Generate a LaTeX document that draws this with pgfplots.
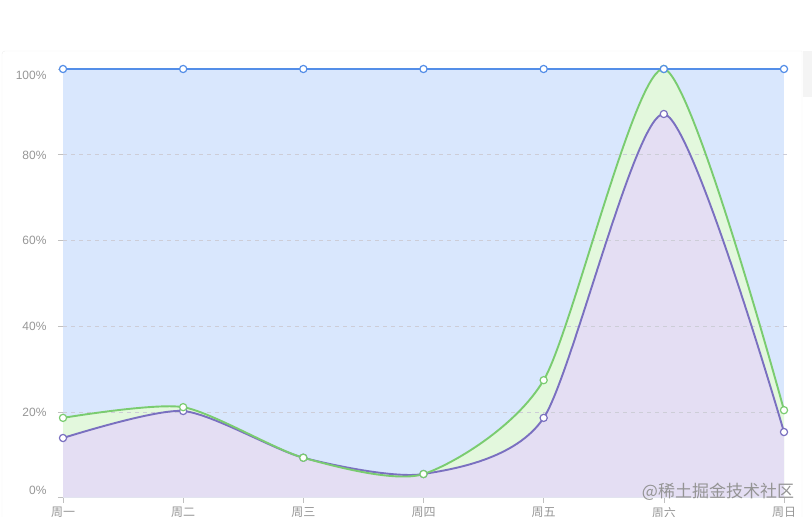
\documentclass[border=0pt]{standalone}
\usepackage{fontspec}
\setmainfont{Liberation Sans}
\newfontfamily\cjk{Noto Sans CJK SC}
\usepackage{pgfplots}
\pgfplotsset{compat=1.18}

\definecolor{bluefill}{RGB}{217,231,253}
\definecolor{greenfill}{RGB}{227,248,221}
\definecolor{purplefill}{RGB}{228,222,243}
\definecolor{blueline}{RGB}{84,142,232}
\definecolor{greenline}{RGB}{122,204,112}
\definecolor{purpleline}{RGB}{122,112,192}
\definecolor{labelgray}{RGB}{150,150,150}
\definecolor{gridgray}{RGB}{205,205,215}
\definecolor{cardline}{RGB}{236,236,236}

% y labels: the end ones are pulled inwards, as the original does
\newcommand{\ylab}[1]{%
  \ifnum\ticknum=5\relax\raisebox{-10.3pt}[0pt][0pt]{#1}%
  \else\ifnum\ticknum=0\relax\raisebox{2.7pt}[0pt][0pt]{#1}%
  \else\raisebox{-4.3pt}[0pt][0pt]{#1}\fi\fi}

\begin{document}
\begin{tikzpicture}
% card outline and scrollbar strip
\draw[cardline] (2pt,-5pt) -- (2pt,463pt) arc[start angle=180,end angle=90,radius=3pt] -- (802pt,466pt) -- (802pt,-5pt);
\fill[cardline!60] (802.5pt,420pt) rectangle (812pt,466pt);

\begin{axis}[
  at={(63pt,19.4pt)}, anchor=south west,
  scale only axis,
  width=721pt, height=428.6pt,
  xmin=0, xmax=6, ymin=0, ymax=100,
  clip=false,
  axis x line*=bottom,
  axis y line*=left,
  y axis line style={draw=none},
  x axis line style={draw=labelgray!60, -},
  xtick={0,...,6},
  xticklabels={周一,周二,周三,周四,周五,周六,周日},
  xticklabel style={font=\cjk\fontsize{12}{14}\selectfont, text=labelgray, yshift=-1pt},
  ytick={0,20,...,100},
  /pgf/number format/assume math mode=true,
  yticklabel={\ylab{\pgfmathprintnumber{\tick}\%}},
  yticklabel style={font=\fontsize{12}{14}\selectfont, text=labelgray, xshift=-8pt},
  tick style={draw=labelgray!60, line width=0.6pt},
  major tick length=5pt,
  tick align=outside,
]
% stacked areas
\addplot[draw=none, fill=bluefill] coordinates {(0,100) (6,100)} \closedcycle;
\addplot[draw=none, fill=greenfill, smooth, tension=0.42] coordinates {
  (0,18.6) (1,21.1) (2,9.3) (3,5.5) (4,27.4) (5,100) (6,20.4)
} \closedcycle;
\addplot[draw=none, fill=purplefill, smooth, tension=0.42] coordinates {
  (0,13.9) (1,20.2) (2,9.3) (3,5.5) (4,18.6) (5,89.5) (6,15.3)
} \closedcycle;

% dashed grid
\foreach \g in {20,40,60,80} {
  \edef\tmp{\noexpand\draw[gridgray, dash pattern=on 4pt off 4pt, line width=0.6pt]
    (axis cs:0,\g) -- ([xshift=4pt]axis cs:6,\g);}
  \tmp
}

% lines
\addplot[purpleline, line width=1.9pt, smooth, tension=0.42,
  mark=*, mark size=3.6pt, mark options={fill=white, line width=1.2pt}] coordinates {
  (0,13.9) (1,20.2) (2,9.3) (3,5.5) (4,18.6) (5,89.5) (6,15.3)
};
\addplot[greenline, line width=1.9pt, smooth, tension=0.42,
  mark=*, mark size=3.6pt, mark options={fill=white, line width=1.2pt}] coordinates {
  (0,18.6) (1,21.1) (2,9.3) (3,5.5) (4,27.4) (5,100) (6,20.4)
};
\addplot[blueline, line width=1.9pt,
  mark=*, mark size=3.6pt, mark options={fill=white, line width=1.2pt}] coordinates {
  (0,100) (1,100) (2,100) (3,100) (4,100) (5,100) (6,100)
};
\end{axis}

% watermark
\node[text=black!42] at (718pt,25pt) {\cjk\fontsize{17}{20}\selectfont @稀土掘金技术社区};

\pgfresetboundingbox
\path[use as bounding box] (0pt,0pt) rectangle (812pt,517pt);
\end{tikzpicture}
\end{document}
